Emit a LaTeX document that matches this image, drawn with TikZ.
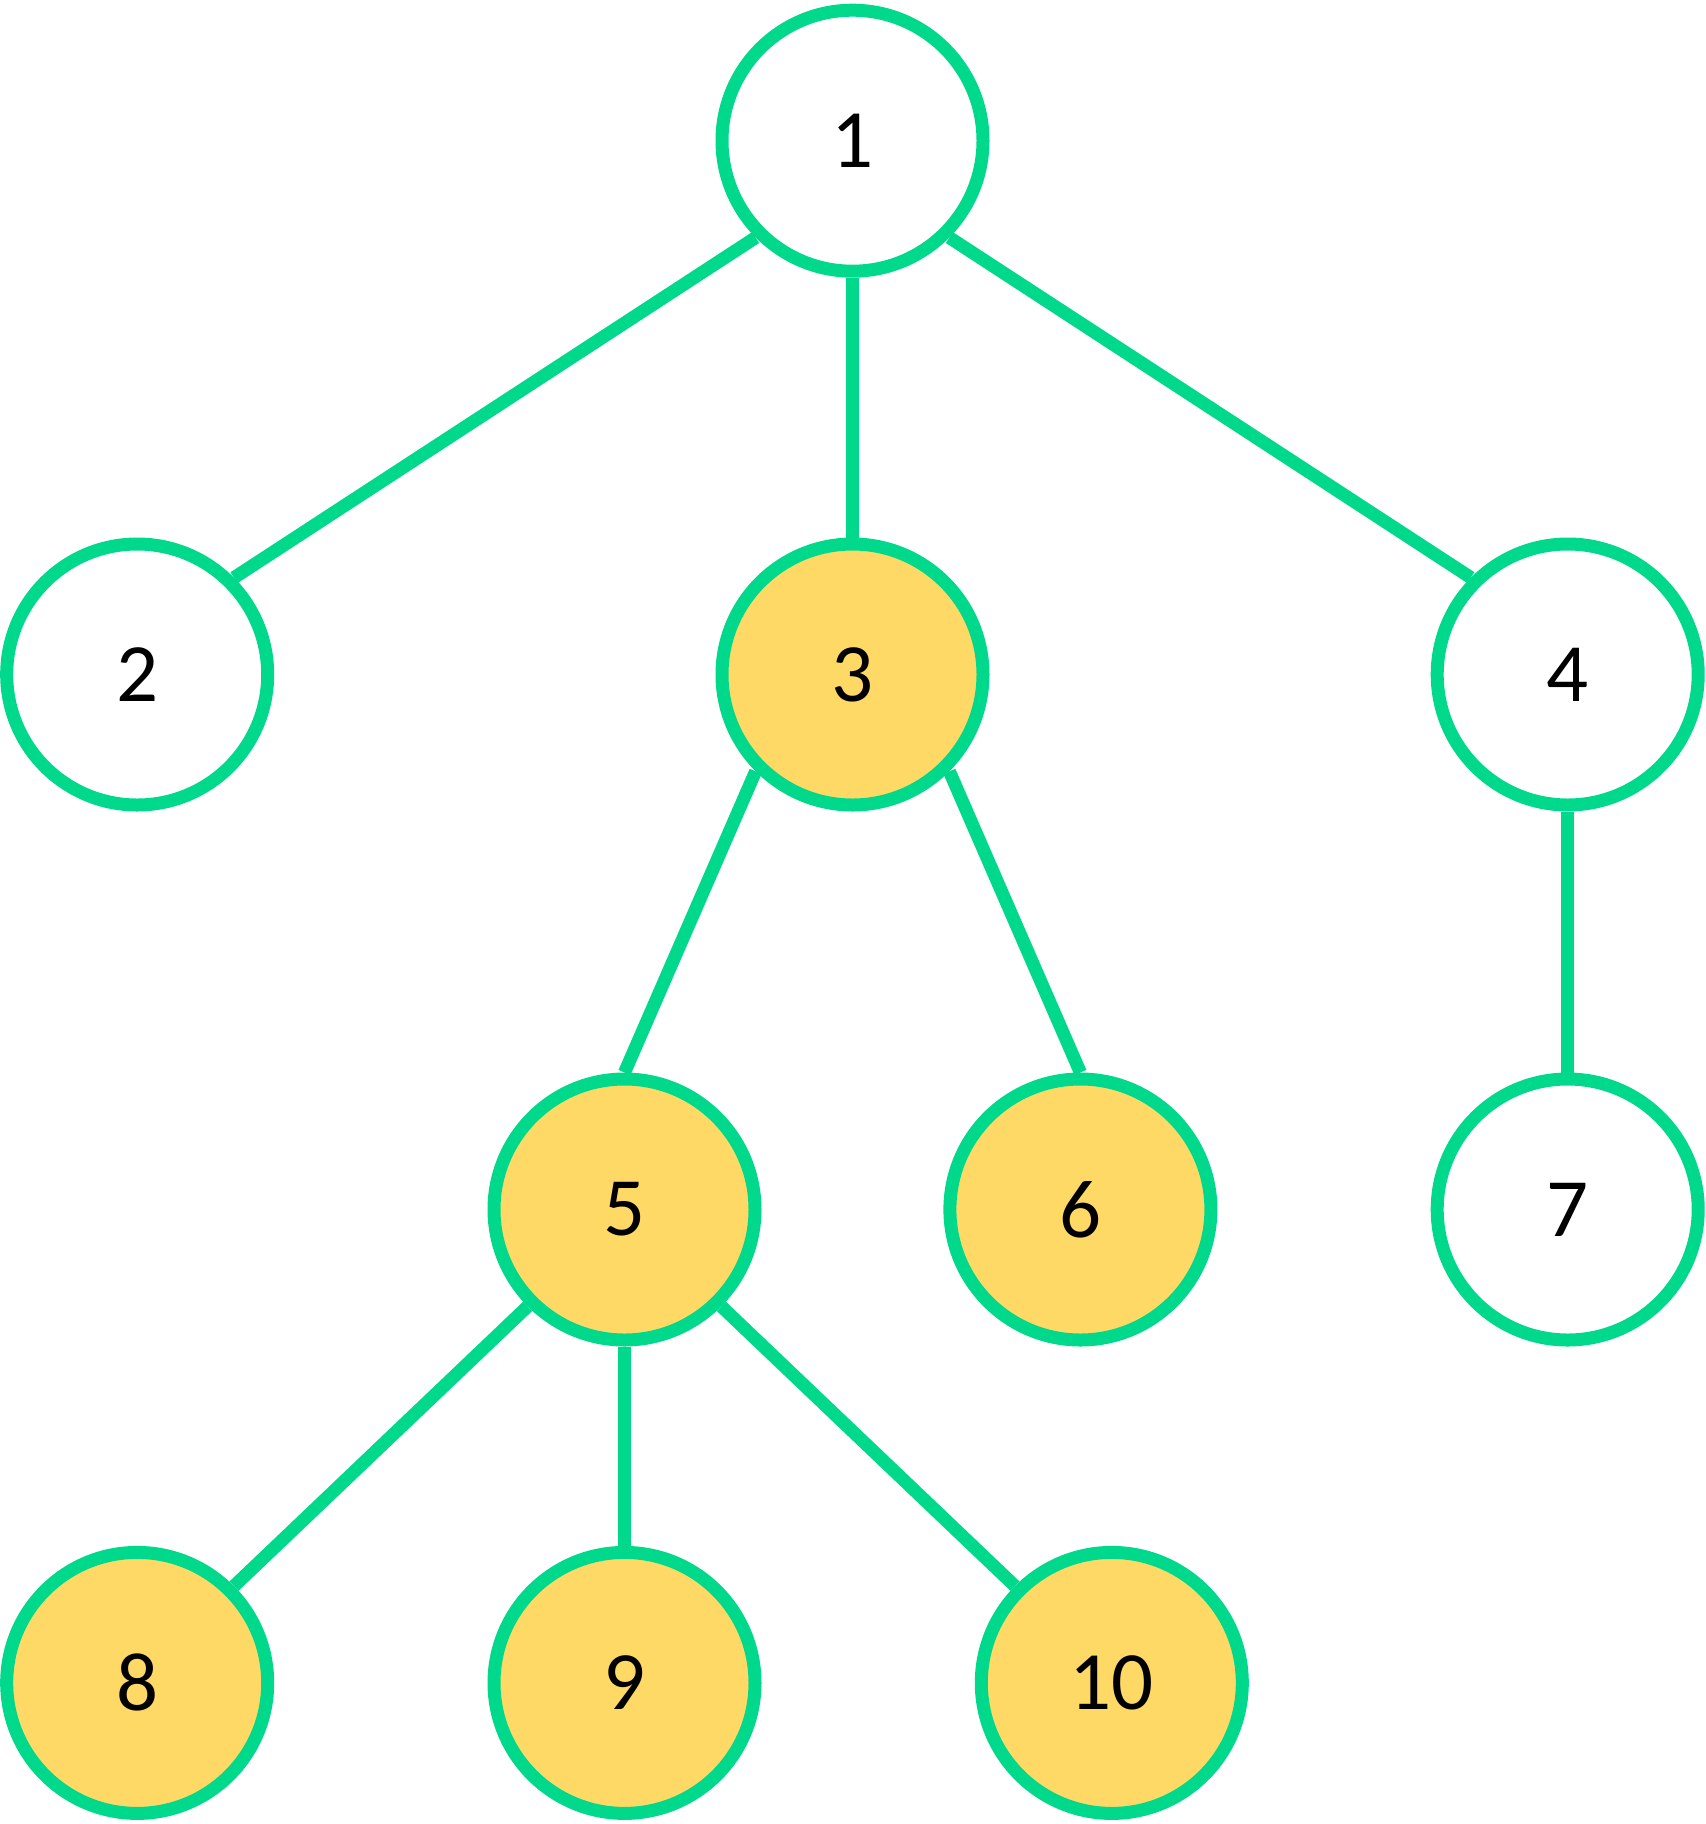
\documentclass[tikz,border=0pt]{standalone}
\usepackage{fontspec}
\setmainfont{Carlito}
\usetikzlibrary{positioning}
\definecolor{edgegreen}{RGB}{0,217,140}
\definecolor{nodeyellow}{RGB}{255,217,102}
\tikzset{
  vertex/.style = {circle, draw = edgegreen, line width = 0.13cm,
    minimum size = 2.61cm, inner sep = 0pt, fill = white,
    font = \fontsize{23.6}{28}\selectfont},
  marked/.style = {vertex, fill = nodeyellow},
  link/.style = {draw = edgegreen, line width = 0.13cm}
}

\begin{document}
\begin{tikzpicture}
  \pgfmathsetmacro{\rA}{-1.407}
  \pgfmathsetmacro{\rB}{-6.745}
  \pgfmathsetmacro{\rC}{-12.095}
  \pgfmathsetmacro{\rD}{-16.829}

  \useasboundingbox (0, 0) rectangle (17.05, -18.24);

  \node[vertex] (n1) at (8.525, \rA) {1};

  \node[vertex] (n2) at (1.372, \rB) {2};
  \node[marked] (n3) at (8.525, \rB) {3};
  \node[vertex] (n4) at (15.677, \rB) {4};

  \node[marked] (n5) at (6.245, \rC) {5};
  \node[marked] (n6) at (10.804, \rC) {6};
  \node[vertex] (n7) at (15.677, \rC) {7};

  \node[marked] (n8) at (1.372, \rD) {8};
  \node[marked] (n9) at (6.245, \rD) {9};
  \node[marked] (n10) at (11.118, \rD) {10};

  % parent.anchor / child.anchor
  \foreach \a/\b in {n1.south west/n2.north east, n1.south/n3.north,
    n1.south east/n4.north west, n3.south west/n5.north,
    n3.south east/n6.north, n4.south/n7.north,
    n5.south west/n8.north east, n5.south/n9.north,
    n5.south east/n10.north west}{
    \draw[link] (\a) -- (\b);
  }

\end{tikzpicture}
\end{document}
